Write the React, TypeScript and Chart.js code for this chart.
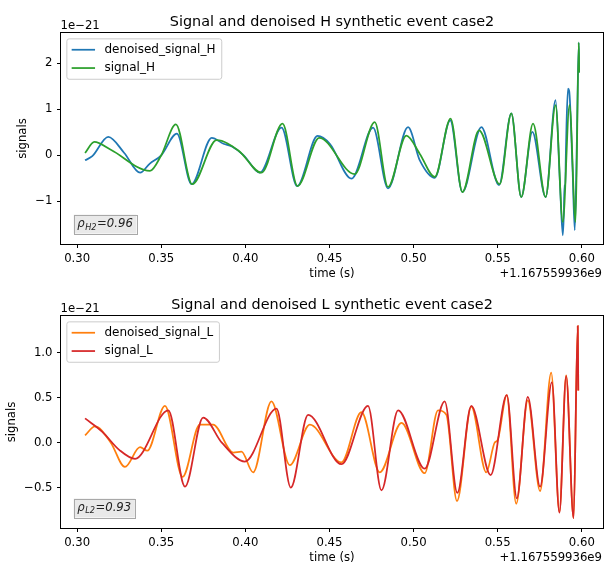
import React, { useEffect, useRef } from 'react';
import { Chart, registerables } from 'chart.js';

Chart.register(...registerables);

// ---------- data ----------
const X_TICKS = [0.3, 0.35, 0.4, 0.45, 0.5, 0.55, 0.6];
const X_TICK_LABELS = ['0.30', '0.35', '0.40', '0.45', '0.50', '0.55', '0.60'];
const X_MIN = 0.2904;
const X_MAX = 0.6126;
const X_OFFSET_TEXT = '+1.167559936e9';
const X_LABEL = 'time (s)';
const Y_LABEL = 'signals';
const Y_OFFSET_TEXT = '1e\u221221';

const H_TITLE = 'Signal and denoised H synthetic event case2';
const H_Y_TICKS = [-1, 0, 1, 2];
const H_Y_TICK_LABELS = ['\u22121', '0', '1', '2'];
const H_Y_MIN = -1.93;
const H_Y_MAX = 2.66;

const L_TITLE = 'Signal and denoised L synthetic event case2';
const L_Y_TICKS = [-0.5, 0, 0.5, 1];
const L_Y_TICK_LABELS = ['\u22120.5', '0.0', '0.5', '1.0'];
const L_Y_MIN = -0.95;
const L_Y_MAX = 1.41;

// denoised_signal_H
const H_DENOISED_T = [0.3047, 0.309, 0.3185, 0.328, 0.3374, 0.3432, 0.35, 0.3593, 0.368, 0.38, 0.387, 0.392, 0.399, 0.4086, 0.4215, 0.4308, 0.4429, 0.4502, 0.4631, 0.4759, 0.4848, 0.4967, 0.5037, 0.5126, 0.5218, 0.529, 0.5403, 0.5508, 0.5581, 0.564, 0.5706, 0.5785, 0.5844, 0.587, 0.5887, 0.5893, 0.5897, 0.5901, 0.5905, 0.5909, 0.5918, 0.5925, 0.5945, 0.5958, 0.597, 0.5982, 0.5984];
const H_DENOISED_V = [-0.11, -0.02, 0.4, 0.05, -0.38, -0.18, 0.0, 0.47, -0.63, 0.38, 0.25, 0.19, 0.0, -0.38, 0.6, -0.67, 0.42, 0.25, -0.51, 0.6, -0.72, 0.61, -0.11, -0.49, 0.76, -0.8, 0.61, -0.65, 0.91, -0.91, 0.51, -0.91, 1.2, -0.6, -1.74, -1.3, -0.65, -0.75, 0.0, 0.65, 1.45, 1.4, -0.3, -1.63, 0.2, 2.45, 1.8];

// signal_H
const H_SIGNAL_T = [0.3047, 0.3102, 0.32, 0.3433, 0.35, 0.3587, 0.3684, 0.3829, 0.396, 0.4096, 0.4221, 0.431, 0.4439, 0.465, 0.4769, 0.4848, 0.4957, 0.5037, 0.5126, 0.522, 0.529, 0.5389, 0.5512, 0.5581, 0.564, 0.571, 0.5785, 0.5844, 0.5887, 0.5927, 0.5963, 0.5982, 0.5984];
const H_SIGNAL_V = [0.05, 0.29, 0.12, -0.34, 0.0, 0.67, -0.63, 0.33, 0.1, -0.38, 0.69, -0.67, 0.38, -0.41, 0.72, -0.69, 0.43, 0.03, -0.47, 0.8, -0.8, 0.54, -0.63, 0.91, -0.91, 0.69, -0.91, 1.09, -1.45, 1.09, -1.45, 2.45, 1.8];

// denoised_signal_L
const L_DENOISED_T = [0.3047, 0.3106, 0.32, 0.3284, 0.3374, 0.3417, 0.3522, 0.3627, 0.3729, 0.3808, 0.3928, 0.3977, 0.4046, 0.4155, 0.4264, 0.4383, 0.4571, 0.469, 0.4799, 0.4928, 0.5066, 0.5145, 0.5195, 0.5258, 0.5343, 0.5432, 0.5482, 0.55, 0.5554, 0.561, 0.5679, 0.5752, 0.5818, 0.5867, 0.5907, 0.5951, 0.5976, 0.5979];
const L_DENOISED_V = [0.08, 0.18, 0.0, -0.27, -0.05, -0.09, 0.41, -0.38, 0.2, 0.2, -0.11, -0.1, -0.33, 0.46, -0.25, 0.2, -0.22, 0.34, -0.33, 0.22, -0.34, 0.36, 0.31, -0.65, 0.4, -0.33, 0.0, 0.03, 0.53, -0.68, 0.47, -0.54, 0.78, -0.77, 0.75, -0.84, 1.3, 0.58];

// signal_L
const L_SIGNAL_T = [0.3047, 0.315, 0.325, 0.3344, 0.3542, 0.3641, 0.3749, 0.386, 0.3997, 0.4185, 0.427, 0.4373, 0.4571, 0.4729, 0.4809, 0.4908, 0.5066, 0.5185, 0.526, 0.5343, 0.5458, 0.5554, 0.5614, 0.5679, 0.5752, 0.5822, 0.5867, 0.5907, 0.5951, 0.5976, 0.5979];
const L_SIGNAL_V = [0.27, 0.12, -0.08, -0.18, 0.36, -0.49, 0.28, 0.0, -0.21, 0.38, -0.5, 0.31, -0.24, 0.41, -0.53, 0.36, -0.29, 0.46, -0.56, 0.41, -0.36, 0.53, -0.62, 0.51, -0.49, 0.67, -0.78, 0.74, -0.84, 1.3, 0.58];

// ---------- style ----------
const FONT = "'DejaVu Sans', 'Liberation Sans', sans-serif";
const SMALL = 11.7;
const LEGEND_SIZE = 12;
const TITLE_SIZE = 14.4;
const LINE_W = 1.75;
const CANVAS_W = 606;
const CANVAS_H = 282;
const X_AXIS_H = 20;

const BLUE = '#1f77b4';
const ORANGE = '#ff7f0e';
const GREEN = '#2ca02c';
const RED = '#d62728';

type Series = { label: string; t: number[]; v: number[]; color: string; order: number };
type PanelSpec = {
  title: string;
  series: Series[];
  yTicks: number[];
  yTickLabels: string[];
  yMin: number;
  yMax: number;
  area: { left: number; right: number; top: number; bottom: number };
  ylabelX: number;
  rhoSub: string;
  rhoValue: string;
};

function decorPlugin(spec: PanelSpec) {
  return {
    id: 'mplDecor',
    afterDraw(chart: any) {
      const ctx: CanvasRenderingContext2D = chart.ctx;
      const a = chart.chartArea;
      const w = a.right - a.left;
      const h = a.bottom - a.top;
      ctx.save();

      // spines
      ctx.strokeStyle = '#000';
      ctx.lineWidth = 1;
      ctx.strokeRect(a.left - 0.5, a.top - 0.5, w + 1, h + 1);

      // legend
      const fs = SMALL;
      const lf = LEGEND_SIZE;
      ctx.font = `${lf}px ${FONT}`;
      const labels = [spec.series[0], spec.series[1]];
      const tw = Math.max(...labels.map((s) => ctx.measureText(s.label).width));
      const bp = 0.4 * lf;
      const hl = 2 * fs;
      const htp = 0.8 * fs;
      const lx = a.left + 0.5 * fs;
      const ly = a.top + 0.5 * fs;
      const lw = bp + hl + htp + tw + bp + 1.5;
      const lh = 40.4;
      const r = 0.2 * fs;
      ctx.beginPath();
      ctx.moveTo(lx + r, ly);
      ctx.lineTo(lx + lw - r, ly);
      ctx.quadraticCurveTo(lx + lw, ly, lx + lw, ly + r);
      ctx.lineTo(lx + lw, ly + lh - r);
      ctx.quadraticCurveTo(lx + lw, ly + lh, lx + lw - r, ly + lh);
      ctx.lineTo(lx + r, ly + lh);
      ctx.quadraticCurveTo(lx, ly + lh, lx, ly + lh - r);
      ctx.lineTo(lx, ly + r);
      ctx.quadraticCurveTo(lx, ly, lx + r, ly);
      ctx.closePath();
      ctx.fillStyle = 'rgba(255,255,255,0.8)';
      ctx.fill();
      ctx.strokeStyle = '#cccccc';
      ctx.lineWidth = 1;
      ctx.stroke();
      labels.forEach((s, i) => {
        const cy = ly + 10.9 + i * 18.3;
        ctx.strokeStyle = s.color;
        ctx.lineWidth = LINE_W;
        ctx.beginPath();
        ctx.moveTo(lx + bp, cy);
        ctx.lineTo(lx + bp + hl, cy);
        ctx.stroke();
        ctx.fillStyle = '#000';
        ctx.textAlign = 'left';
        ctx.textBaseline = 'middle';
        ctx.font = `${lf}px ${FONT}`;
        ctx.fillText(s.label, lx + bp + hl + htp, cy);
      });

      // rho box
      const tx = a.left + 0.03 * w;
      const by = a.bottom - 0.08 * h;
      ctx.font = `italic ${fs}px ${FONT}`;
      const w1 = ctx.measureText('\u03c1').width;
      ctx.font = `italic ${fs * 0.7}px ${FONT}`;
      const w2 = ctx.measureText(spec.rhoSub).width;
      ctx.font = `italic ${fs}px ${FONT}`;
      const w3 = ctx.measureText(spec.rhoValue).width;
      const pad = 3.6;
      const bx = tx - pad;
      const bTop = by - 8.9 - pad;
      const bw = w1 + 0.5 + w2 + 0.5 + w3 + 2 * pad;
      const bh = 8.9 + 2.8 + 2 * pad;
      ctx.fillStyle = '#e9e9e9';
      ctx.fillRect(bx, bTop, bw, bh);
      ctx.strokeStyle = '#a8a8a8';
      ctx.lineWidth = 1;
      ctx.strokeRect(Math.round(bx) + 0.5, Math.round(bTop) + 0.5, Math.round(bw), Math.round(bh));
      ctx.fillStyle = '#222';
      ctx.textBaseline = 'alphabetic';
      ctx.textAlign = 'left';
      ctx.font = `italic ${fs}px ${FONT}`;
      ctx.fillText('\u03c1', tx, by);
      ctx.font = `italic ${fs * 0.7}px ${FONT}`;
      ctx.fillText(spec.rhoSub, tx + w1 + 0.5, by + 2.4);
      ctx.font = `italic ${fs}px ${FONT}`;
      ctx.fillText(spec.rhoValue, tx + w1 + 0.5 + w2 + 0.5, by);

      // title
      ctx.fillStyle = '#000';
      ctx.font = `${TITLE_SIZE}px ${FONT}`;
      ctx.textAlign = 'center';
      ctx.textBaseline = 'alphabetic';
      ctx.fillText(spec.title, (a.left + a.right) / 2, a.top - 7);

      // y offset text
      ctx.font = `${fs}px ${FONT}`;
      ctx.textAlign = 'left';
      ctx.fillText(Y_OFFSET_TEXT, a.left - 0.5, a.top - 4);

      // x label and offset
      ctx.textAlign = 'center';
      ctx.fillText(X_LABEL, (a.left + a.right) / 2, a.bottom + 33);
      ctx.textAlign = 'right';
      ctx.fillText(X_OFFSET_TEXT, a.right - 1, a.bottom + 33);

      // y label
      ctx.save();
      ctx.translate(spec.ylabelX, (a.top + a.bottom) / 2);
      ctx.rotate(-Math.PI / 2);
      ctx.textAlign = 'center';
      ctx.textBaseline = 'middle';
      ctx.fillText(Y_LABEL, 0, 0);
      ctx.restore();

      ctx.restore();
    },
  };
}

function makeChart(canvas: HTMLCanvasElement, spec: PanelSpec) {
  const tickFont = { family: FONT, size: SMALL };
  return new Chart(canvas, {
    type: 'line',
    data: {
      datasets: spec.series.map((s) => ({
        label: s.label,
        data: s.t.map((t, i) => ({ x: t, y: s.v[i] })),
        borderColor: s.color,
        backgroundColor: s.color,
        borderWidth: LINE_W,
        pointRadius: 0,
        pointHoverRadius: 0,
        cubicInterpolationMode: 'monotone',
        fill: false,
        order: s.order,
        borderJoinStyle: 'round',
      })),
    },
    options: {
      animation: false,
      responsive: false,
      devicePixelRatio: 1,
      events: [],
      layout: {
        padding: {
          left: 0,
          right: CANVAS_W - spec.area.right,
          top: spec.area.top,
          bottom: CANVAS_H - spec.area.bottom - X_AXIS_H,
        },
      },
      plugins: {
        legend: { display: false },
        title: { display: false },
        tooltip: { enabled: false },
      },
      scales: {
        x: {
          type: 'linear',
          position: 'bottom',
          min: X_MIN,
          max: X_MAX,
          bounds: 'data',
          afterBuildTicks: (sc: any) => {
            sc.ticks = X_TICKS.map((v) => ({ value: v }));
          },
          afterFit: (sc: any) => {
            sc.height = X_AXIS_H;
          },
          ticks: {
            autoSkip: false,
            maxRotation: 0,
            minRotation: 0,
            padding: 4,
            color: '#000',
            font: tickFont,
            callback: (value: number) => {
              const i = X_TICKS.findIndex((v) => Math.abs(v - value) < 1e-9);
              return i >= 0 ? X_TICK_LABELS[i] : '';
            },
          },
          grid: { display: true, drawOnChartArea: false, drawTicks: true, tickLength: 4, color: '#000', lineWidth: 1 },
          border: { display: false },
        },
        y: {
          type: 'linear',
          position: 'left',
          min: spec.yMin,
          max: spec.yMax,
          bounds: 'data',
          afterBuildTicks: (sc: any) => {
            sc.ticks = spec.yTicks.map((v) => ({ value: v }));
          },
          afterFit: (sc: any) => {
            sc.width = spec.area.left;
          },
          ticks: {
            autoSkip: false,
            padding: 4.5,
            color: '#000',
            font: tickFont,
            callback: (value: number) => {
              const i = spec.yTicks.findIndex((v) => Math.abs(v - value) < 1e-9);
              return i >= 0 ? spec.yTickLabels[i] : '';
            },
          },
          grid: { display: true, drawOnChartArea: false, drawTicks: true, tickLength: 4, color: '#000', lineWidth: 1 },
          border: { display: false },
        },
      },
    } as any,
    plugins: [decorPlugin(spec)],
  });
}

const H_SPEC: PanelSpec = {
  title: H_TITLE,
  series: [
    { label: 'denoised_signal_H', t: H_DENOISED_T, v: H_DENOISED_V, color: BLUE, order: 1 },
    { label: 'signal_H', t: H_SIGNAL_T, v: H_SIGNAL_V, color: GREEN, order: 0 },
  ],
  yTicks: H_Y_TICKS,
  yTickLabels: H_Y_TICK_LABELS,
  yMin: H_Y_MIN,
  yMax: H_Y_MAX,
  area: { left: 61, right: 603, top: 33, bottom: 244 },
  ylabelX: 23,
  rhoSub: 'H2',
  rhoValue: '=0.96',
};

const L_SPEC: PanelSpec = {
  title: L_TITLE,
  series: [
    { label: 'denoised_signal_L', t: L_DENOISED_T, v: L_DENOISED_V, color: ORANGE, order: 1 },
    { label: 'signal_L', t: L_SIGNAL_T, v: L_SIGNAL_V, color: RED, order: 0 },
  ],
  yTicks: L_Y_TICKS,
  yTickLabels: L_Y_TICK_LABELS,
  yMin: L_Y_MIN,
  yMax: L_Y_MAX,
  area: { left: 61, right: 603, top: 34, bottom: 246 },
  ylabelX: 12,
  rhoSub: 'L2',
  rhoValue: '=0.93',
};

export default function App() {
  const topRef = useRef<HTMLCanvasElement>(null);
  const botRef = useRef<HTMLCanvasElement>(null);

  useEffect(() => {
    const c1 = makeChart(topRef.current as HTMLCanvasElement, H_SPEC);
    const c2 = makeChart(botRef.current as HTMLCanvasElement, L_SPEC);
    return () => {
      c1.destroy();
      c2.destroy();
    };
  }, []);

  return (
    <div style={{ position: 'absolute', left: 0, top: 0, width: CANVAS_W, height: CANVAS_H * 2, background: '#fff' }}>
      <canvas
        ref={topRef}
        width={CANVAS_W}
        height={CANVAS_H}
        style={{ position: 'absolute', left: 0, top: 0, width: CANVAS_W, height: CANVAS_H, display: 'block' }}
      />
      <canvas
        ref={botRef}
        width={CANVAS_W}
        height={CANVAS_H}
        style={{ position: 'absolute', left: 0, top: CANVAS_H, width: CANVAS_W, height: CANVAS_H, display: 'block' }}
      />
    </div>
  );
}
